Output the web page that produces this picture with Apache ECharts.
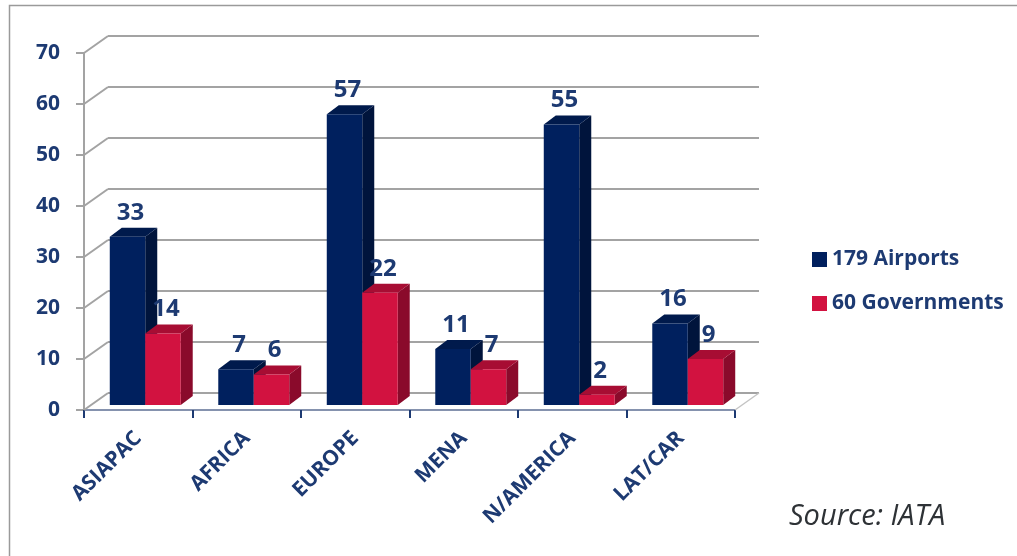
<!DOCTYPE html>
<html>
<head>
<meta charset="utf-8">
<script src="https://cdn.jsdelivr.net/npm/echarts@6/dist/echarts.min.js"></script>
<style>
  html, body { margin: 0; padding: 0; background: #fff; }
  #chart { width: 1017px; height: 556px; }
</style>
</head>
<body>
<div id="chart"></div>
<script>
// Regions and counts per region
const regions = ['ASIAPAC', 'AFRICA', 'EUROPE', 'MENA', 'N/AMERICA', 'LAT/CAR'];
const airports = [33, 7, 57, 11, 55, 16];
const governments = [14, 6, 22, 7, 2, 9];
const seriesNames = ['179 Airports', '60 Governments'];
const yTicks = [0, 10, 20, 30, 40, 50, 60, 70];

// 3D look: depth of the wall/floor box and of each column
const WALL_DX = 24, WALL_DY = -17;
const BAR_FRONT_DX = 7, BAR_FRONT_DY = -5;   // column front face sits slightly inside the box
const BAR_DX = 12, BAR_DY = -9;               // column depth
const BAR_FRAC = 0.327;                        // column width as share of a category band

const NAVY_TEXT = '#1d3a72';
const FONT = '"Open Sans", sans-serif';
const faces = [
  { front: '#00205e', top: '#001a4c', side: '#00143c' },
  { front: '#d21240', top: '#a70d33', side: '#8a0a2b' }
];

const chart = echarts.init(document.getElementById('chart'), null, { renderer: 'canvas' });

function gridRender(params, api) {
  const cs = params.coordSys;
  const v = api.value(0);
  const y = api.coord([0, v])[1];
  const x0 = cs.x;
  const x1 = cs.x + cs.width;
  const children = [
    { type: 'line', shape: { x1: x0, y1: y, x2: x0 + WALL_DX, y2: y + WALL_DY },
      style: { stroke: '#a3a3a3', lineWidth: 2 } },
    { type: 'line', shape: { x1: x0 + WALL_DX, y1: y + WALL_DY, x2: x1 + WALL_DX, y2: y + WALL_DY },
      style: { stroke: '#a3a3a3', lineWidth: 2 } }
  ];
  if (v === 0) {
    children.push({ type: 'line', shape: { x1: x1, y1: y, x2: x1 + WALL_DX, y2: y + WALL_DY },
      style: { stroke: '#c4c4c4', lineWidth: 1.5 } });
  }
  return { type: 'group', children: children };
}

function barRender(sIdx) {
  return function (params, api) {
    const i = api.value(0);
    const v = api.value(1);
    const base = api.coord([i, 0]);
    const top = api.coord([i, v]);
    const band = api.size([1, 0])[0];
    const w = band * BAR_FRAC;
    const xa = (sIdx === 0 ? base[0] - w : base[0]) + BAR_FRONT_DX;
    const xb = xa + w;
    const yb = base[1] + BAR_FRONT_DY;
    const yt = top[1] + BAR_FRONT_DY;
    const c = faces[sIdx];
    return {
      type: 'group',
      children: [
        { type: 'polygon', shape: { points: [[xb, yb], [xb, yt], [xb + BAR_DX, yt + BAR_DY], [xb + BAR_DX, yb + BAR_DY]] },
          style: { fill: c.side } },
        { type: 'polygon', shape: { points: [[xa, yt], [xb, yt], [xb + BAR_DX, yt + BAR_DY], [xa + BAR_DX, yt + BAR_DY]] },
          style: { fill: c.top } },
        { type: 'rect', shape: { x: xa, y: yt, width: w, height: yb - yt },
          style: { fill: c.front } },
        { type: 'text', z2: 10,
          style: { text: String(v), x: (xa + xb) / 2 + 3, y: yt - 12,
            align: 'center', verticalAlign: 'bottom',
            fill: NAVY_TEXT, font: 'bold 24px ' + FONT } }
      ]
    };
  };
}

chart.setOption({
  animation: false,
  backgroundColor: '#fff',
  grid: { left: 84, top: 53, width: 651, height: 357, containLabel: false },
  xAxis: {
    type: 'category',
    data: regions,
    axisLine: { lineStyle: { color: '#8592ae', width: 2 } },
    axisTick: { show: true, interval: 0, length: 8, alignWithLabel: false,
      lineStyle: { color: '#1d3a72', width: 2 } },
    axisLabel: { interval: 0, rotate: 45, margin: 25, color: NAVY_TEXT,
      fontFamily: FONT, fontWeight: 'bold', fontSize: 21 },
    splitLine: { show: false }
  },
  yAxis: {
    type: 'value',
    min: 0, max: 70, interval: 10,
    axisLine: { show: true, lineStyle: { color: '#a3a3a3', width: 2 } },
    axisTick: { show: true, length: 8, lineStyle: { color: '#a3a3a3', width: 2 } },
    axisLabel: { margin: 24, color: NAVY_TEXT,
      fontFamily: FONT, fontWeight: 'bold', fontSize: 21 },
    splitLine: { show: false }
  },
  legend: {
    orient: 'vertical',
    left: 812, top: 249, padding: 0,
    itemWidth: 15, itemHeight: 15, itemGap: 23,
    icon: 'rect',
    data: seriesNames,
    textStyle: { color: NAVY_TEXT, fontFamily: FONT,
      fontWeight: 'bold', fontSize: 21, padding: [0, 0, 0, 0] }
  },
  graphic: [
    { type: 'rect', left: 7, top: 3, silent: true,
      shape: { x: 0, y: 0, width: 1030, height: 570 },
      style: { fill: 'none', stroke: '#9a9a9a', lineWidth: 1.5 } },
    { type: 'text', left: 789, top: 502,
      style: { text: 'Source: IATA', fill: '#2e3236', font: 'italic 29px ' + FONT } }
  ],
  series: [
    { type: 'custom', name: '_grid', z: 1, silent: true,
      renderItem: gridRender, data: yTicks.map(v => [v]), encode: { y: 0 } },
    { type: 'custom', name: seriesNames[0], z: 2, itemStyle: { color: faces[0].front },
      renderItem: barRender(0), data: airports.map((v, i) => [i, v]), encode: { x: 0, y: 1 } },
    { type: 'custom', name: seriesNames[1], z: 2, itemStyle: { color: faces[1].front },
      renderItem: barRender(1), data: governments.map((v, i) => [i, v]), encode: { x: 0, y: 1 } }
  ]
});
</script>
</body>
</html>
